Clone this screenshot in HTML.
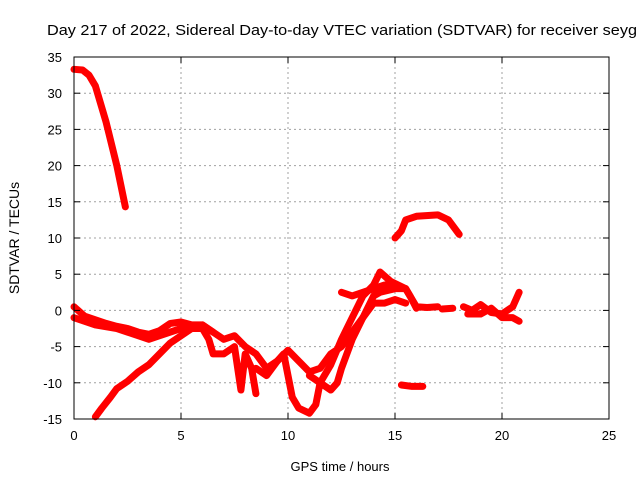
<!DOCTYPE html>
<html><head><meta charset="utf-8"><style>
body{margin:0;background:#fff}
svg text{font-family:"Liberation Sans",sans-serif;font-size:13px;fill:#000}
</style></head><body>
<svg id="chart" width="640" height="480" xmlns="http://www.w3.org/2000/svg">
<rect width="640" height="480" fill="#fff"/>
<text x="47" y="35" style="font-size:15px" textLength="590" lengthAdjust="spacingAndGlyphs">Day 217 of 2022, Sidereal Day-to-day VTEC variation (SDTVAR) for receiver seyg</text>
<g id="grid"></g>
<g id="series"></g>
<rect x="74" y="57" width="535" height="362" fill="none" stroke="#000" stroke-width="1"/>
<g id="ticks"></g>
<text x="340" y="471" text-anchor="middle">GPS time / hours</text>
<text transform="translate(19,238) rotate(-90)" text-anchor="middle" style="font-size:14px">SDTVAR / TECUs</text>
</svg>
<script>
const xTicks=[0,5,10,15,20,25];
const yTicks=[-15,-10,-5,0,5,10,15,20,25,30,35];
const seriesA=[[0,33.3],[0.4,33.2],[0.7,32.5],[1,31],[1.5,26],[2,20],[2.4,14.3]];
const seriesB=[[1,-14.7],[1.3,-13.5],[1.7,-12],[2,-10.8],[2.5,-9.8],[3,-8.5],[3.5,-7.5],[4,-6],[4.5,-4.5],[5,-3.5],[5.5,-2.5],[6,-2],[6.5,-3]];
const seriesC=[[0,0.5],[0.5,-0.8],[1,-1.3],[1.5,-1.8],[2,-2.2],[2.5,-2.5],[3,-3],[3.5,-3.3],[4,-2.8],[4.5,-1.8],[5,-1.6],[5.5,-2],[6,-2],[6.5,-3],[7,-4],[7.5,-3.5],[8,-5],[8.5,-6],[9,-8],[9.5,-7],[10,-5.5],[10.5,-7],[11,-8.5],[11.5,-8],[12,-6],[12.5,-5],[13,-3],[13.5,-1],[14,2],[14.3,2.5],[15,3],[15.5,3],[16,0.5],[16.5,0.4],[17,0.5]];
const seriesD=[[0,-1],[1,-2],[2,-2.5],[3,-3.5],[3.5,-4],[4,-3.5],[5,-2.5],[6,-2.5],[6.3,-4],[6.5,-6],[7,-6],[7.5,-5],[7.7,-9],[7.8,-11],[8,-6],[8.3,-8],[8.5,-11.5]];
const seriesE=[[8.5,-8],[9,-9],[9.5,-7],[9.8,-6],[10,-9],[10.2,-12],[10.5,-13.5],[11,-14.2],[11.3,-13],[11.5,-10],[12,-7.5],[12.5,-4],[13,-1],[13.5,2],[14,3.5],[14.3,5.3],[14.8,4],[15.5,3],[15.7,2],[16,0.3]];
const seriesF=[[11,-9],[11.5,-10],[12,-11],[12.3,-10],[12.5,-8],[13,-4],[13.5,-1],[14,1],[14.5,1],[15,1.5],[15.5,1]];
const seriesG=[[12.5,2.5],[13,2],[13.5,2.5],[14,3],[14.5,3.5],[15,3.5]];
const seriesH=[[15,10],[15.3,11],[15.5,12.5],[16,13],[17,13.2],[17.5,12.5],[18,10.5]];
const seriesI=[[15.3,-10.3],[15.8,-10.5],[16.3,-10.5]];
const seriesJ=[[17.2,0.2],[17.7,0.3]];
const seriesK=[[18.2,0.5],[18.6,0],[19,0.8],[19.5,-0.3],[20,-0.5],[20.5,0.5],[20.8,2.5]];
const seriesL=[[18.4,-0.5],[19,-0.5],[19.5,0.3],[20,-1],[20.5,-1],[20.8,-1.5]];
const allSeries=[seriesA,seriesB,seriesC,seriesD,seriesE,seriesF,seriesG,seriesH,seriesI,seriesJ,seriesK,seriesL];
const names=['series-a','series-b','series-c','series-d','series-e','series-f','series-g','series-h','series-i','series-j','series-k','series-l'];
const X0=74,X1=609,Y0=419,Y1=57;
const sx=h=>X0+(h-0)/(25-0)*(X1-X0);
const sy=v=>Y0-(v+15)/(35+15)*(Y0-Y1);
const NS='http://www.w3.org/2000/svg';
const grid=document.getElementById('grid'),ticks=document.getElementById('ticks'),ser=document.getElementById('series');
function mk(t,a,p){const e=document.createElementNS(NS,t);for(const k in a)e.setAttribute(k,a[k]);p.appendChild(e);return e;}
xTicks.forEach(t=>{const x=sx(t);
 if(t>0&&t<25){const g=mk('line',{x1:x,x2:x,y1:Y1,y2:Y0,stroke:'#a0a0a0','stroke-dasharray':'2,3'},grid);
 
 }
 mk('line',{x1:x,x2:x,y1:Y0,y2:Y0-6,stroke:'#000'},ticks);
 mk('line',{x1:x,x2:x,y1:Y1,y2:Y1+6,stroke:'#000'},ticks);
 const l=mk('text',{x:x,y:Y0+21,'text-anchor':'middle'},ticks);l.textContent=t;
 
 });
yTicks.forEach(t=>{const y=sy(t);
 if(t>-15&&t<35){const g=mk('line',{x1:X0,x2:X1,y1:y,y2:y,stroke:'#a0a0a0','stroke-dasharray':'2,3'},grid);
 
 }
 mk('line',{x1:X0,x2:X0+6,y1:y,y2:y,stroke:'#000'},ticks);
 mk('line',{x1:X1,x2:X1-6,y1:y,y2:y,stroke:'#000'},ticks);
 const l=mk('text',{x:X0-12,y:y+5,'text-anchor':'end'},ticks);l.textContent=t;
 
 });
allSeries.forEach((s,i)=>{
 const p=mk('polyline',{points:s.map(d=>sx(d[0])+','+sy(d[1])).join(' '),fill:'none',stroke:'#ff0000','stroke-width':7,'stroke-linejoin':'round','stroke-linecap':'round'},ser);
 
 
});
</script>
</body></html>
